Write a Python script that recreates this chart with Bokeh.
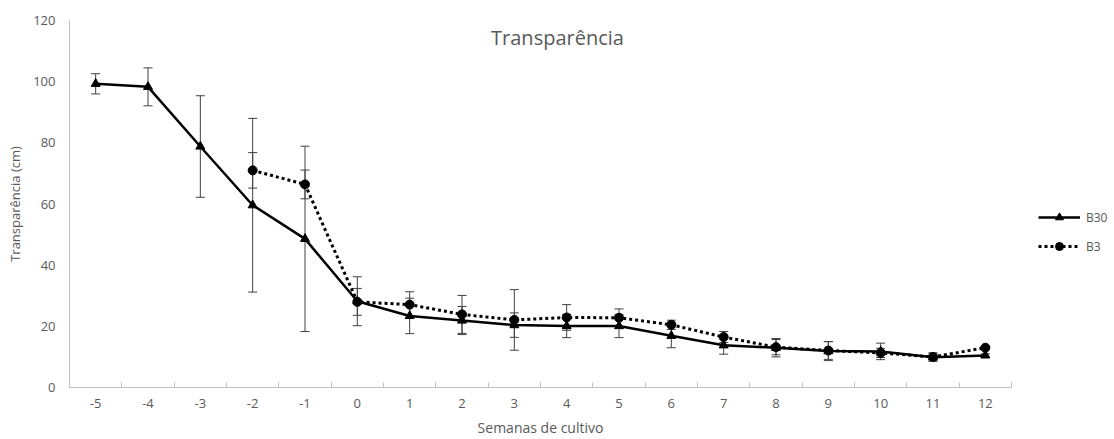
from bokeh.plotting import figure
from bokeh.models import (ColumnDataSource, Range1d, FixedTicker, Whisker, TeeHead,
                          Legend, LegendItem, Label)
from bokeh.layouts import row
from bokeh.embed import file_html
from bokeh.resources import INLINE

# ---- data ----
weeks_b30 = [-5, -4, -3, -2, -1, 0, 1, 2, 3, 4, 5, 6, 7, 8, 9, 10, 11, 12]
b30 = [99.3, 98.3, 78.8, 59.6, 48.6, 28.2, 23.4, 21.9, 20.4, 20.1, 20.1, 16.9, 13.8, 13.0, 11.9, 11.8, 9.9, 10.5]
b30_err = [3.3, 6.2, 16.6, 28.4, 30.3, 8.0, 5.8, 4.6, 4.0, 3.8, 3.8, 3.9, 2.9, 3.0, 3.1, 2.7, 1.3, 0.5]

weeks_b3 = [-2, -1, 0, 1, 2, 3, 4, 5, 6, 7, 8, 9, 10, 11, 12]
b3 = [71.0, 66.4, 28.0, 27.1, 23.9, 22.1, 22.9, 22.8, 20.5, 16.5, 13.2, 12.1, 11.3, 10.0, 13.0]
b3_err = [5.8, 4.7, 4.4, 4.2, 6.2, 9.9, 4.2, 2.9, 1.5, 1.8, 2.5, 2.9, 1.5, 1.3, 0.5]

week_labels = [str(w) for w in range(-5, 13)]
y_ticks = [0, 20, 40, 60, 80, 100, 120]

FONT = "Open Sans"
GRAY = "#595959"
AXIS = "#bfbfbf"

src30 = ColumnDataSource(dict(x=weeks_b30, y=b30,
                              lo=[v - e for v, e in zip(b30, b30_err)],
                              hi=[v + e for v, e in zip(b30, b30_err)]))
src3 = ColumnDataSource(dict(x=weeks_b3, y=b3,
                             lo=[v - e for v, e in zip(b3, b3_err)],
                             hi=[v + e for v, e in zip(b3, b3_err)]))

centers = list(range(-5, 13))
bounds = [c - 0.5 for c in centers] + [centers[-1] + 0.5]

p = figure(width=1012, height=439, output_backend="svg", toolbar_location=None,
           x_range=Range1d(bounds[0], bounds[-1]), y_range=Range1d(0, 120),
           min_border_left=69, min_border_right=1, min_border_top=20, min_border_bottom=52)
p.outline_line_color = None
p.xgrid.visible = False
p.ygrid.visible = False
p.background_fill_color = "white"
p.border_fill_color = "white"

# x axis
p.xaxis.ticker = FixedTicker(ticks=centers, minor_ticks=bounds)
p.xaxis.major_label_overrides = {c: l for c, l in zip(centers, week_labels)}
p.xaxis.major_tick_in = 0
p.xaxis.major_tick_out = 0
p.xaxis.minor_tick_in = 5
p.xaxis.minor_tick_out = 0
p.xaxis.minor_tick_line_color = AXIS
p.xaxis.axis_line_color = AXIS
p.xaxis.major_label_standoff = 11
p.xaxis.major_label_text_font = FONT
p.xaxis.major_label_text_font_size = "13px"
p.xaxis.major_label_text_color = GRAY
p.xaxis.axis_label = "Semanas de cultivo"
p.xaxis.axis_label_text_font = FONT
p.xaxis.axis_label_text_font_size = "14px"
p.xaxis.axis_label_text_font_style = "normal"
p.xaxis.axis_label_text_color = GRAY
p.xaxis.axis_label_standoff = 7

# y axis
p.yaxis.ticker = FixedTicker(ticks=y_ticks)
p.yaxis.major_tick_in = 0
p.yaxis.major_tick_out = 0
p.yaxis.minor_tick_line_color = None
p.yaxis.axis_line_color = AXIS
p.yaxis.major_label_standoff = 14
p.yaxis.major_label_text_font = FONT
p.yaxis.major_label_text_font_size = "13px"
p.yaxis.major_label_text_color = GRAY
p.yaxis.axis_label = "Transparência (cm)"
p.yaxis.axis_label_text_font = FONT
p.yaxis.axis_label_text_font_size = "13px"
p.yaxis.axis_label_text_font_style = "normal"
p.yaxis.axis_label_text_color = GRAY
p.yaxis.axis_label_standoff = 6

# error bars
for src in (src30, src3):
    w = Whisker(source=src, base="x", upper="hi", lower="lo",
                line_color="#404040", line_width=1,
                upper_head=TeeHead(size=9, line_color="#404040", line_width=1),
                lower_head=TeeHead(size=9, line_color="#404040", line_width=1),
                level="underlay")
    p.add_layout(w)

p.line("x", "y", source=src30, line_color="black", line_width=2.5)
p.scatter("x", "y", source=src30, marker="triangle", size=9, color="black")
p.line("x", "y", source=src3, line_color="black", line_width=3, line_dash="3 3")
p.scatter("x", "y", source=src3, marker="circle", size=9, color="black")

title = Label(x=488, y=350, x_units="screen", y_units="screen", text="Transparência",
              text_font=FONT, text_font_size="20px", text_color=GRAY,
              text_align="center", text_baseline="alphabetic")
p.add_layout(title)

# legend panel (separate narrow figure; series drawn outside its view so only the legend shows)
q = figure(width=102, height=439, output_backend="svg", toolbar_location=None,
           x_range=Range1d(1000, 1001), y_range=Range1d(0, 120),
           min_border_left=0, min_border_right=0, min_border_top=0, min_border_bottom=0)
q.axis.visible = False
q.grid.visible = False
q.outline_line_color = None
q.border_fill_color = "white"
ql30 = q.line("x", "y", source=src30, line_color="black", line_width=2.5)
qm30 = q.scatter("x", "y", source=src30, marker="triangle", size=9, color="black")
ql3 = q.line("x", "y", source=src3, line_color="black", line_width=3, line_dash="3 3")
qm3 = q.scatter("x", "y", source=src3, marker="circle", size=9, color="black")

legend = Legend(items=[LegendItem(label="B30", renderers=[ql30, qm30]),
                       LegendItem(label="B3", renderers=[ql3, qm3])],
                location=(26, 131), orientation="vertical",
                glyph_width=42, glyph_height=20, spacing=9, padding=0, margin=0,
                label_text_font=FONT, label_text_font_size="12px",
                label_text_color=GRAY, label_standoff=6,
                border_line_color=None, background_fill_alpha=0)
q.add_layout(legend, "center")

layout = row(p, q, spacing=0)
open("out.html", "w").write(file_html(layout, INLINE))
